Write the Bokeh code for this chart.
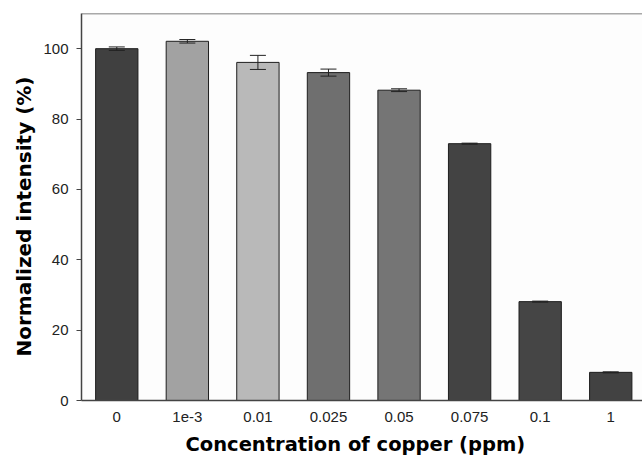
from bokeh.plotting import figure
from bokeh.models import ColumnDataSource, Whisker, Span, FixedTicker, Range1d, Title
from bokeh.embed import file_html
from bokeh.resources import INLINE

categories = ["0", "1e-3", "0.01", "0.025", "0.05", "0.075", "0.1", "1"]
intensity = [100.0, 102.1, 96.1, 93.2, 88.2, 73.0, 28.1, 8.0]
errors = [0.5, 0.5, 2.0, 1.0, 0.4, 0.15, 0.15, 0.15]
bar_colors = ["#404040", "#a2a2a2", "#b9b9b9", "#6f6f6f", "#757575", "#434343", "#454545", "#424242"]
y_ticks = [0, 20, 40, 60, 80, 100]
x_title = "Concentration of copper (ppm)"
y_title = "Normalized intensity (%)"

xs = list(range(len(categories)))
src = ColumnDataSource(dict(
    x=xs, top=intensity, color=bar_colors,
    upper=[v + e for v, e in zip(intensity, errors)],
    lower=[v - e for v, e in zip(intensity, errors)],
))

x_lo, x_hi = -0.5, 7.45
y_lo, y_hi = 0, 110

p = figure(width=642, height=461, output_backend="svg", toolbar_location=None,
           x_range=Range1d(x_lo, x_hi), y_range=Range1d(y_lo, y_hi),
           min_border_left=81, min_border_right=0, min_border_top=13, min_border_bottom=60)
p.background_fill_color = "#fdfdfd"
p.border_fill_color = "white"
p.outline_line_color = None
p.xgrid.visible = False
p.ygrid.visible = False

p.vbar(x="x", top="top", width=0.6, source=src, fill_color="color",
       line_color="#1e1e1e", line_width=1)

w = Whisker(base="x", upper="upper", lower="lower", source=src,
            line_color="#222222", line_width=1, level="overlay")
w.upper_head.size = 16
w.lower_head.size = 16
w.upper_head.line_color = "#222222"
w.lower_head.line_color = "#222222"
p.add_layout(w)

p.add_layout(Span(location=y_hi, dimension="width", line_color="#555555", line_width=1.5))

# y axis
p.yaxis.ticker = FixedTicker(ticks=y_ticks)
p.yaxis.minor_tick_line_color = None
p.yaxis.major_tick_in = 0
p.yaxis.major_tick_out = 5
p.yaxis.major_label_standoff = 8
p.yaxis.major_label_text_font = "Liberation Sans"
p.yaxis.major_label_text_font_size = "15px"
p.yaxis.major_label_text_color = "#222222"
p.yaxis.axis_line_color = "#444444"
p.yaxis.axis_line_width = 1.5
p.yaxis.major_tick_line_color = "#444444"

# x axis
p.xaxis.ticker = FixedTicker(ticks=xs)
p.xaxis.major_label_overrides = {i: c for i, c in zip(xs, categories)}
p.xaxis.minor_tick_line_color = None
p.xaxis.major_tick_line_color = None
p.xaxis.major_tick_in = 0
p.xaxis.major_tick_out = 0
p.xaxis.major_label_standoff = 11
p.xaxis.major_label_text_font = "Liberation Sans"
p.xaxis.major_label_text_font_size = "15px"
p.xaxis.major_label_text_color = "#222222"
p.xaxis.axis_line_color = "#444444"
p.xaxis.axis_line_width = 1.5

# axis titles (slightly off-centre, as in the original)
p.add_layout(Title(text=y_title, align="left", offset=44, standoff=8,
                   vertical_align="middle", text_font="DejaVu Sans",
                   text_font_style="bold", text_font_size="20px",
                   text_color="black"), "left")
p.add_layout(Title(text=x_title, align="left", offset=104, standoff=12,
                   vertical_align="bottom", text_font="DejaVu Sans",
                   text_font_style="bold", text_font_size="19.5px",
                   text_color="black"), "below")

open("out.html", "w").write(file_html(p, INLINE))
